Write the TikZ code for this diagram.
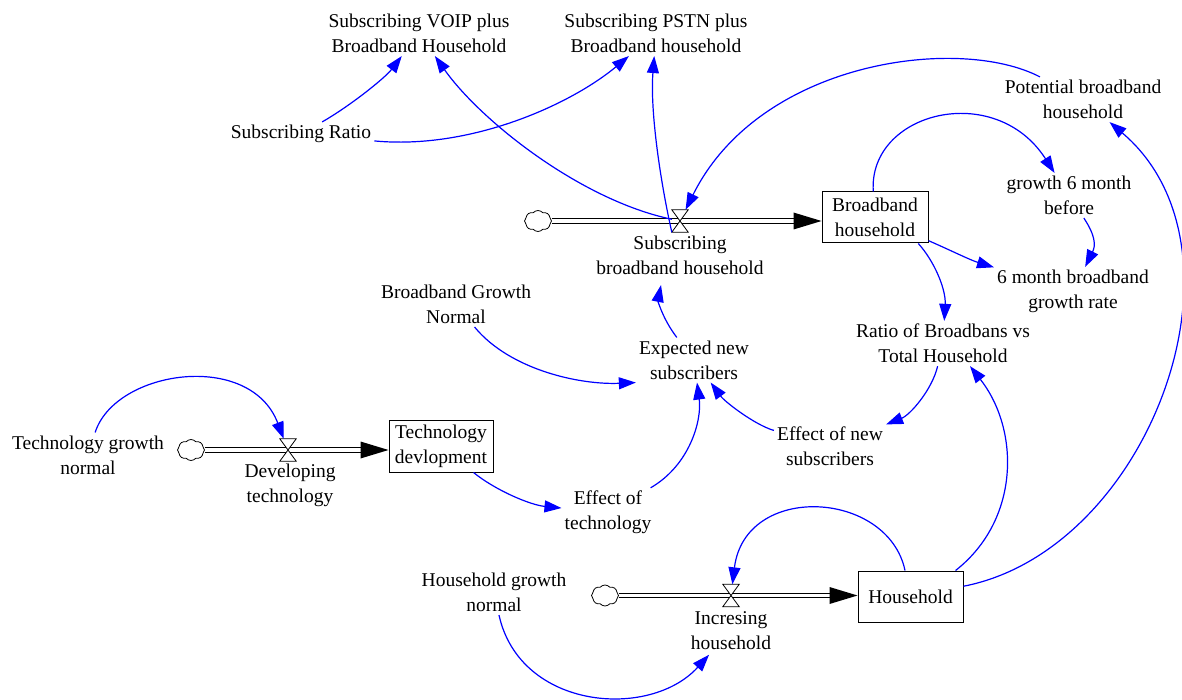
\documentclass[tikz,border=0pt]{standalone}
\usepackage{fontspec}
\setmainfont{Liberation Serif}
\usetikzlibrary{arrows.meta,shapes.symbols,calc}
\begin{document}
\begin{tikzpicture}[x=1pt,y=-1pt,
  every node/.style={font=\fontsize{19.5}{25}\selectfont},
  var/.style={align=center, inner sep=3pt},
  flowlabel/.style={align=center, inner sep=5pt},
  stock/.style={draw, line width=1pt, align=center, inner sep=0pt},
  src/.style={cloud, cloud puffs=8, cloud puff arc=100, draw, line width=0.8pt, inner sep=0pt, minimum width=27pt, minimum height=21pt, cloud ignores aspect},
  valve/.style={inner sep=0pt, minimum width=16pt, minimum height=22pt},
  valveshape/.style={draw, fill=white, line width=0.8pt},
  pipe/.style={draw, double=white, double distance=3.6pt, line width=1pt},
  link/.style={draw=blue, line width=1.2pt, -{Triangle[length=17pt,width=12pt]}}
]
\useasboundingbox (0,0) rectangle (1182,700);

% auxiliary variables
\node[var] (voip) at (419,33.5) {Subscribing VOIP plus\\Broadband Household};
\node[var] (pstn) at (656,33.5) {Subscribing PSTN plus\\Broadband household};
\node[var] (sratio) at (301,134) {Subscribing Ratio};
\node[var] (pot) at (1083,99.5) {Potential broadband\\household};
\node[var] (g6) at (1069,195.5) {growth 6 month\\before};
\node[var] (rate) at (1073,291.5) {6 month broadband\\growth rate};
\node[var] (rbt) at (943,343.5) {Ratio of Broadbans vs\\Total Household};
\node[var] (bgn) at (456,304.5) {Broadband Growth\\Normal};
\node[var] (expn) at (694,360) {Expected new\\subscribers};
\node[var] (efn) at (830,446.5) {Effect of new\\subscribers};
\node[var] (tgn) at (88,455) {Technology growth\\normal};
\node[var] (eft) at (608,512.5) {Effect of\\technology};
\node[var] (hgn) at (494,592.5) {Household growth\\normal};

% stocks
\node[stock, minimum width=106pt, minimum height=51pt] (bb) at (875,217.5) {Broadband\\household};
\node[stock, minimum width=104pt, minimum height=52pt] (td) at (441,446) {Technology\\devlopment};
\node[stock, minimum width=105pt, minimum height=51pt] (hh) at (910.5,596.5) {Household};

% sources
\node[src] (cs) at (538,221) {};
\node[src] (cd) at (191,450) {};
\node[src] (ci) at (605,595.5) {};

% valves
\node[valve] (sv) at (680,221) {};
\node[valve] (dv) at (288,450) {};
\node[valve] (iv) at (731,595.5) {};

% flow labels
\node[flowlabel] (sl) at (680,255.5) {Subscribing\\broadband household};
\node[flowlabel] (dl) at (290,485.5) {Developing\\technology};
\node[flowlabel] (il) at (731,630.5) {Incresing\\household};

% pipes
\draw[pipe] (cs.east) -- ($(cs.east -| bb.west)+(-26,0)$);
\fill (cs.east -| bb.west) -- ++(-28,-8.5) -- ++(0,17) -- cycle;
\draw[pipe] (cd.east) -- ($(cd.east -| td.west)+(-26,0)$);
\fill (cd.east -| td.west) -- ++(-28,-8.5) -- ++(0,17) -- cycle;
\draw[pipe] (ci.east) -- ($(ci.east -| hh.west)+(-26,0)$);
\fill (ci.east -| hh.west) -- ++(-28,-8.5) -- ++(0,17) -- cycle;

\draw[valveshape] (sv.north west) -- (sv.north east) -- (sv.south west) -- (sv.south east) -- cycle;
\draw[valveshape] (dv.north west) -- (dv.north east) -- (dv.south west) -- (dv.south east) -- cycle;
\draw[valveshape] (iv.north west) -- (iv.north east) -- (iv.south west) -- (iv.south east) -- cycle;

% links
\draw[link] (sratio) .. controls (350,106) and (385,78) .. (voip);
\draw[link] (sratio) .. controls (470,150) and (570,105) .. (pstn);
\draw[link] (sv) .. controls (580,200) and (480,120) .. (voip);
\draw[link] (sv.south west) .. controls (660,180) and (650,110) .. (pstn);
\draw[link] (pot) .. controls (960,35) and (760,60) .. (sv);
\draw[link] (bb) .. controls (868,112) and (995,80) .. (g6);
\draw[link] (g6) .. controls (1095,235) and (1096,245) .. (rate);
\draw[link] (bb) .. controls (950,250) and (970,260) .. (rate);
\draw[link] (bb.-31) .. controls (935,262) and (946,290) .. (rbt);
\draw[link] (expn) .. controls (662,318) and (658,300) .. ([xshift=-19pt,yshift=-5pt]sl.south);
\draw[link] (bgn) .. controls (510,370) and (580,385) .. (expn.south west);
\draw[link] (efn) .. controls (755,425) and (725,402) .. (expn);
\draw[link] (rbt) .. controls (932,390) and (910,415) .. (efn);
\draw[link] (eft) .. controls (690,465) and (702,420) .. (expn);
\draw[link] (td) .. controls (495,490) and (530,505) .. (eft);
\draw[link] (tgn) .. controls (115,370) and (250,350) .. (dv);
\draw[link] (hh) .. controls (888,490) and (745,482) .. (iv);
\draw[link] (hgn) .. controls (520,710) and (650,720) .. (il);
\draw[link] (hh.30) .. controls (1020,520) and (1020,430) .. (rbt.-40);
\draw[link] (hh) .. controls (1150,550) and (1260,250) .. (pot);
\end{tikzpicture}
\end{document}
